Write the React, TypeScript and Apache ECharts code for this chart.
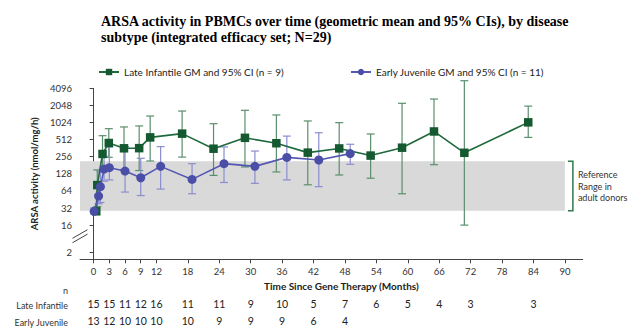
import React, { useEffect, useRef } from 'react';
import * as echarts from 'echarts';

// Late Infantile: visit month (plotted, slightly dodged), geometric mean, 95% CI
const liMonths = [0.5, 0.7, 1.7, 2.9, 5.8, 8.7, 10.8, 16.9, 22.9, 28.9, 34.9, 40.9, 46.9, 52.9, 58.9, 65.0, 70.8, 83.0];
const liGM = [28, 81, 286, 446, 360, 362, 560, 652, 354, 550, 442, 302, 358, 268, 369, 712, 300, 1030];
const liLow = [25, 34, 138, 250, 152, 146, 215, 252, 120, 169, 138, 82, 122, 107, 57, 185, 16, 560];
const liHigh = [31, 150, 600, 797, 855, 890, 1330, 1630, 975, 1680, 1390, 1090, 1017, 643, 2230, 2650, 5570, 1990];

// Early Juvenile
const ejMonths = [0.1, 0.95, 1.3, 2.0, 3.0, 6.0, 9.0, 12.8, 18.8, 24.9, 30.8, 36.9, 43.0, 49.0];
const ejGM = [28, 52, 76, 155, 164, 143, 109, 173, 102, 193, 173, 249, 224, 290];
const ejLow = [25, 38, 40, 95, 100, 61, 53, 69, 57, 90, 87, 100, 76, 188];
const ejHigh = [32, 72, 140, 260, 380, 385, 240, 385, 193, 380, 322, 590, 676, 424];

// Reference range in adult donors
const refRange = [28.6, 212];
const refRangeEndMonth = 90;

// Axes
const xTicks = [0, 3, 6, 9, 12, 18, 24, 30, 36, 42, 48, 54, 60, 66, 72, 78, 84, 90];
const yTickLabels = [2, 16, 32, 64, 128, 256, 512, 1024, 2048, 4096];

// Number of patients table
const nMonths = [0, 3, 6, 9, 12, 18, 24, 30, 36, 42, 48, 54, 60, 66, 72, 84];
const liN = [15, 15, 11, 12, 16, 11, 11, 9, 10, 5, 7, 6, 5, 4, 3, 3];
const ejN = [13, 12, 10, 10, 10, 10, 9, 9, 9, 6, 4];

const X_MIN = -2.6;
const X_MAX = 93.4;
const Y_MIN = 2; // log2 units (axis bottom)
const Y_MAX = 12; // log2(4096)
const BREAK_POS2 = 2.39; // where the "2" label sits below the axis break

const GREEN = '#14592f';
const GREEN_LINE = '#1f6a3c';
const GREEN_ERR = '#5a8f6c';
const BLUE = '#4a4ea6';
const BLUE_LINE = '#5558b2';
const BLUE_ERR = '#8a8dcf';
const FONT = 'Lato, "Open Sans", sans-serif';

const L = (v: number) => Math.log2(v);

function errRender(color: string) {
  return (params: any, api: any) => {
    const x = api.value(0);
    const pLo = api.coord([x, api.value(1)]);
    const pHi = api.coord([x, api.value(2)]);
    const w = 4;
    const style = { stroke: color, lineWidth: 1.2 };
    return {
      type: 'group',
      children: [
        { type: 'line', shape: { x1: pLo[0], y1: pLo[1], x2: pHi[0], y2: pHi[1] }, style },
        { type: 'line', shape: { x1: pHi[0] - w, y1: pHi[1], x2: pHi[0] + w, y2: pHi[1] }, style },
        { type: 'line', shape: { x1: pLo[0] - w, y1: pLo[1], x2: pLo[0] + w, y2: pLo[1] }, style },
      ],
    };
  };
}

export default function App() {
  const ref = useRef<HTMLDivElement>(null);

  useEffect(() => {
    document.body.style.margin = '0';
    const chart = echarts.init(ref.current!, null, { renderer: 'svg' });

    const liLookup: Record<number, number> = {};
    nMonths.forEach((m, i) => (liLookup[m] = liN[i]));
    const ejLookup: Record<number, number> = {};
    ejN.forEach((n, i) => (ejLookup[nMonths[i]] = n));

    const yCustom = yTickLabels.map((v) => (v === 2 ? BREAK_POS2 : L(v)));

    const nAxis = (offset: number, lookup: Record<number, number>, months: number[]) => ({
      type: 'value',
      gridIndex: 0,
      position: 'bottom',
      offset,
      min: X_MIN,
      max: X_MAX,
      axisLine: { show: false },
      axisTick: { show: false },
      splitLine: { show: false },
      axisLabel: {
        customValues: months,
        formatter: (v: number) => String(lookup[Math.round(v)] ?? ''),
        fontFamily: FONT,
        fontSize: 10.5,
        color: '#222',
        margin: 0,
      },
    });

    const option: any = {
      animation: false,
      title: {
        text: 'ARSA activity in PBMCs over time (geometric mean and 95% CIs), by disease\nsubtype (integrated efficacy set; N=29)',
        left: 96,
        top: 8,
        textStyle: {
          fontFamily: '"Liberation Serif", "Times New Roman", serif',
          fontWeight: 'bold',
          fontSize: 14,
          lineHeight: 16,
          color: '#000',
        },
      },
      legend: [
        {
          data: ['Late Infantile GM and 95% CI (n = 9)'],
          left: 93,
          top: 62,
          itemWidth: 20,
          itemHeight: 8,
          textStyle: { fontFamily: FONT, fontSize: 10, color: '#222' },
        },
        {
          data: ['Early Juvenile GM and 95% CI (n = 11)'],
          left: 345,
          top: 62,
          itemWidth: 20,
          itemHeight: 8,
          textStyle: { fontFamily: FONT, fontSize: 10, color: '#222' },
        },
      ],
      grid: { left: 80, right: 54.3, top: 88.3, bottom: 73.7, containLabel: false },
      xAxis: [
        {
          type: 'value',
          min: X_MIN,
          max: X_MAX,
          name: 'Time Since Gene Therapy (Months)',
          nameLocation: 'middle',
          nameGap: 18,
          nameTextStyle: { fontFamily: FONT, fontWeight: 'bold', fontSize: 10, color: '#222', padding: [0, 0, 0, 20] },
          axisLine: { lineStyle: { color: '#444', width: 1 } },
          axisTick: { customValues: xTicks, length: 4, lineStyle: { color: '#444' } },
          axisLabel: { customValues: xTicks, fontFamily: FONT, fontSize: 9.5, color: '#333', margin: 7 },
          splitLine: { show: false },
        },
        nAxis(39, liLookup, nMonths),
        nAxis(56, ejLookup, nMonths.slice(0, ejN.length)),
      ],
      yAxis: {
        type: 'value',
        min: Y_MIN,
        max: Y_MAX,
        name: 'ARSA activity (nmol/mg/h)',
        nameLocation: 'middle',
        nameGap: 29,
        nameTextStyle: { fontFamily: FONT, fontWeight: 'bold', fontSize: 9.5, color: '#222' },
        axisLine: { show: true, lineStyle: { color: '#444', width: 1 } },
        axisTick: { show: true, customValues: yCustom, length: 4, lineStyle: { color: '#444' } },
        axisLabel: {
          customValues: yCustom,
          formatter: (v: number) => (Math.abs(v - BREAK_POS2) < 0.01 ? '2' : String(Math.round(Math.pow(2, v)))),
          fontFamily: FONT,
          fontSize: 9.5,
          color: '#333',
          margin: 8,
        },
        splitLine: { show: false },
      },
      series: [
        {
          name: 'band',
          type: 'line',
          data: [],
          silent: true,
          markArea: {
            silent: true,
            itemStyle: { color: '#d9d9d9' },
            data: [[{ xAxis: X_MIN, yAxis: L(refRange[0]) }, { xAxis: refRangeEndMonth, yAxis: L(refRange[1]) }]],
          },
          z: 0,
        },
        {
          name: 'liErr',
          type: 'custom',
          renderItem: errRender(GREEN_ERR),
          data: liMonths.map((m, i) => [m, L(liLow[i]), L(liHigh[i])]),
          encode: { x: 0, y: [1, 2] },
          clip: false,
          silent: true,
          z: 2,
        },
        {
          name: 'ejErr',
          type: 'custom',
          renderItem: errRender(BLUE_ERR),
          data: ejMonths.map((m, i) => [m, L(ejLow[i]), L(ejHigh[i])]),
          encode: { x: 0, y: [1, 2] },
          clip: false,
          silent: true,
          z: 3,
        },
        {
          name: 'Late Infantile GM and 95% CI (n = 9)',
          type: 'line',
          data: liMonths.map((m, i) => [m, L(liGM[i])]),
          symbol: 'rect',
          symbolSize: 8.5,
          itemStyle: { color: GREEN },
          lineStyle: { color: GREEN_LINE, width: 1.6 },
          z: 4,
        },
        {
          name: 'Early Juvenile GM and 95% CI (n = 11)',
          type: 'line',
          data: ejMonths.map((m, i) => [m, L(ejGM[i])]),
          symbol: 'circle',
          symbolSize: 9,
          itemStyle: { color: BLUE },
          lineStyle: { color: BLUE_LINE, width: 1.6 },
          z: 5,
        },
      ],
    };

    chart.setOption(option);

    // decorations computed from the axes
    const axX = chart.convertToPixel({ xAxisIndex: 0 }, X_MIN) as number;
    const brkY = chart.convertToPixel({ yAxisIndex: 0 }, 3.35) as number;
    const endX = chart.convertToPixel({ xAxisIndex: 0 }, refRangeEndMonth) as number;
    const bandTop = chart.convertToPixel({ yAxisIndex: 0 }, L(refRange[1])) as number;
    const bandBot = chart.convertToPixel({ yAxisIndex: 0 }, L(refRange[0])) as number;
    const bandMid = (bandTop + bandBot) / 2;
    const bottomY = chart.convertToPixel({ yAxisIndex: 0 }, Y_MIN) as number;

    const dx = 7.5;
    const slope = 4.3;
    const gap = 2.2;
    const brStroke = { stroke: '#444', lineWidth: 1 };
    chart.setOption({
      graphic: [
        {
          type: 'polygon',
          shape: {
            points: [
              [axX - 3, brkY + gap + 2],
              [axX + 3, brkY + gap - 2],
              [axX + 3, brkY - gap - 2],
              [axX - 3, brkY - gap + 2],
            ],
          },
          style: { fill: '#fff' },
          z: 100,
        },
        { type: 'line', shape: { x1: axX - dx, y1: brkY + gap + slope, x2: axX + dx, y2: brkY + gap - slope }, style: brStroke, z: 101 },
        { type: 'line', shape: { x1: axX - dx, y1: brkY - gap + slope, x2: axX + dx, y2: brkY - gap - slope }, style: brStroke, z: 101 },
        {
          type: 'polyline',
          shape: { points: [[endX + 3, bandTop], [endX + 8, bandTop], [endX + 8, bandBot], [endX + 3, bandBot]] },
          style: { stroke: '#2f7a4b', lineWidth: 1.5, fill: 'none' },
          z: 100,
        },
        {
          type: 'text',
          x: endX + 13,
          y: bandMid,
          style: {
            text: 'Reference\nRange in\nadult donors',
            fontFamily: FONT,
            fontSize: 9,
            lineHeight: 11.5,
            fill: '#333',
            verticalAlign: 'middle',
            align: 'left',
          },
          z: 100,
        },
        {
          type: 'text',
          x: axX - 12,
          y: bottomY + 31,
          style: { text: 'n', fontFamily: FONT, fontSize: 9, fill: '#333', align: 'right', verticalAlign: 'middle' },
        },
        {
          type: 'text',
          x: axX - 12,
          y: bottomY + 46,
          style: { text: 'Late Infantile', fontFamily: FONT, fontSize: 9, fill: '#333', align: 'right', verticalAlign: 'middle' },
        },
        {
          type: 'text',
          x: axX - 12,
          y: bottomY + 63,
          style: { text: 'Early Juvenile', fontFamily: FONT, fontSize: 9, fill: '#333', align: 'right', verticalAlign: 'middle' },
        },
      ],
    });

    return () => chart.dispose();
  }, []);

  return <div ref={ref} style={{ width: 637, height: 333 }} />;
}
